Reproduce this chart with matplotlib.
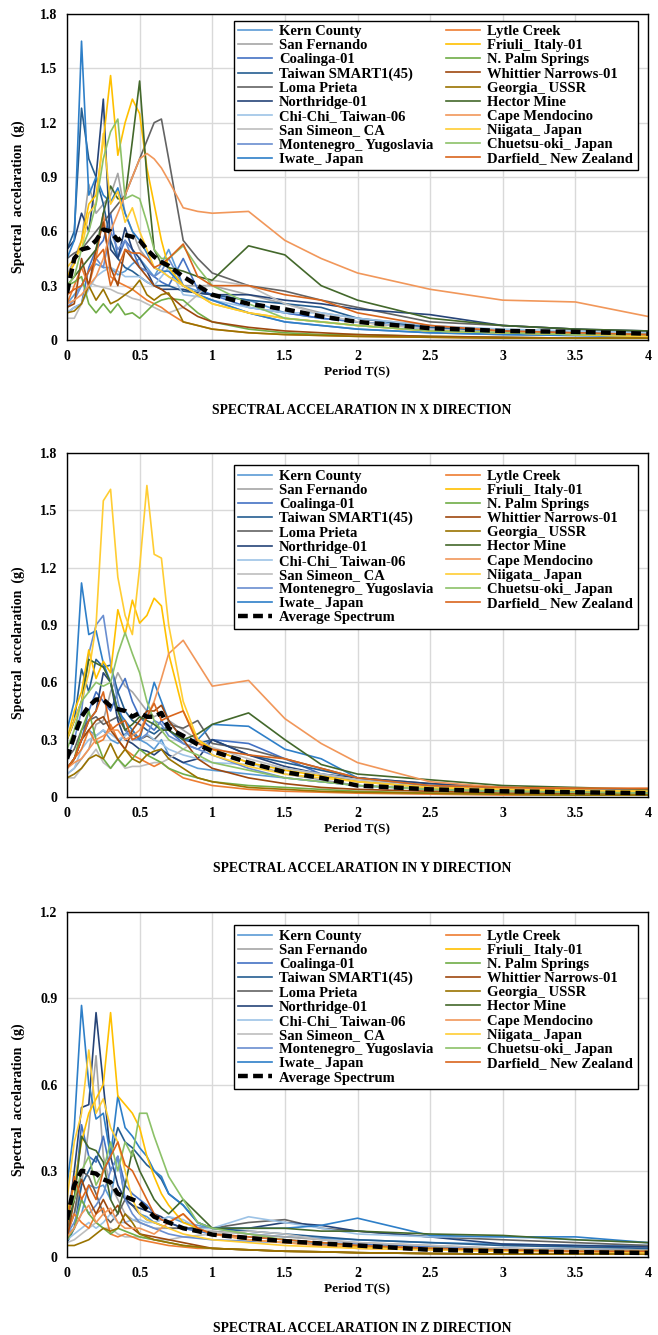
import numpy as np
import matplotlib.pyplot as plt

plt.rcParams['font.family'] = ['Liberation Serif', 'DejaVu Serif']
plt.rcParams['font.weight'] = 'bold'
plt.rcParams['axes.labelweight'] = 'bold'

T = [0, 0.05, 0.1, 0.15, 0.2, 0.25, 0.3, 0.35, 0.4, 0.45, 0.5, 0.55, 0.6, 0.65,
     0.7, 0.8, 0.9, 1.0, 1.25, 1.5, 1.75, 2.0, 2.5, 3.0, 3.5, 4.0]

names = ["Kern County", "San Fernando", "Coalinga-01", "Taiwan SMART1(45)",
         "Loma Prieta", "Northridge-01", "Chi-Chi_ Taiwan-06", "San Simeon_ CA",
         "Montenegro_ Yugoslavia", "Iwate_ Japan",
         "Lytle Creek", "Friuli_ Italy-01", "N. Palm Springs", "Whittier Narrows-01",
         "Georgia_ USSR", "Hector Mine", "Cape Mendocino", "Niigata_ Japan",
         "Chuetsu-oki_ Japan", "Darfield_ New Zealand"]

colors = ["#5B9BD5", "#A5A5A5", "#4472C4", "#255E91", "#636363", "#264478",
          "#9DC3E6", "#BDBDBD", "#698ED0", "#2E7FC8",
          "#ED7D31", "#FFC000", "#70AD47", "#9E480E", "#997300", "#43682B",
          "#F1975A", "#FFCD33", "#8CC168", "#D9651C"]

sa_x = [
    [.20, .25, .30, .38, .42, .40, .40, .36, .38, .42, .45, .40, .35, .42, .50, .30, .27, .25, .22, .15, .12, .10, .07, .05, .04, .03],
    [.35, .45, .55, .86, .70, .75, .80, .92, .70, .60, .50, .45, .40, .38, .35, .30, .30, .30, .25, .20, .15, .12, .08, .05, .04, .03],
    [.15, .18, .20, .40, .50, .55, .70, .45, .55, .50, .40, .38, .35, .32, .30, .45, .28, .25, .18, .15, .12, .10, .06, .04, .035, .03],
    [.50, .60, 1.28, 1.00, .90, .75, .55, .45, .40, .38, .35, .32, .30, .30, .30, .27, .26, .25, .22, .20, .18, .12, .07, .05, .04, .03],
    [.45, .48, .50, .55, .60, .65, .70, .75, .80, .90, 1.00, 1.10, 1.20, 1.22, 1.00, .55, .45, .37, .30, .27, .22, .18, .10, .08, .06, .04],
    [.50, .55, .70, .60, .90, 1.33, .50, .45, .62, .50, .45, .38, .30, .28, .28, .28, .26, .25, .25, .22, .20, .17, .14, .08, .06, .05],
    [.15, .18, .20, .28, .35, .38, .40, .38, .35, .35, .35, .32, .30, .35, .40, .25, .24, .22, .18, .15, .15, .12, .08, .06, .05, .04],
    [.12, .12, .20, .32, .30, .29, .28, .26, .25, .23, .22, .20, .18, .16, .15, .18, .25, .33, .30, .20, .14, .10, .06, .04, .035, .03],
    [.18, .22, .30, .38, .45, .40, .60, .50, .55, .45, .40, .38, .35, .38, .45, .30, .25, .22, .15, .10, .08, .06, .04, .03, .025, .02],
    [.45, .55, 1.65, .80, .90, .80, .76, .84, .70, .60, .55, .48, .40, .38, .38, .30, .25, .22, .15, .10, .08, .06, .04, .03, .025, .02],
    [.20, .30, .40, .30, .45, .70, .35, .32, .30, .28, .25, .22, .20, .18, .15, .10, .08, .06, .04, .03, .025, .02, .015, .01, .01, .01],
    [.35, .42, .55, .75, .80, 1.10, 1.46, 1.02, 1.20, 1.33, 1.25, .95, .75, .55, .40, .30, .25, .20, .15, .12, .10, .08, .05, .04, .03, .02],
    [.30, .32, .35, .20, .15, .20, .15, .20, .14, .15, .12, .16, .20, .22, .23, .22, .15, .10, .06, .04, .03, .03, .02, .015, .01, .01],
    [.18, .20, .45, .30, .50, .65, .40, .30, .50, .45, .40, .35, .30, .28, .25, .18, .13, .10, .07, .05, .04, .03, .02, .015, .01, .01],
    [.15, .16, .20, .30, .22, .28, .20, .22, .25, .28, .33, .25, .22, .25, .26, .10, .08, .06, .04, .03, .025, .02, .015, .01, .01, .01],
    [.30, .35, .40, .45, .50, .70, .85, .78, .78, 1.10, 1.43, .90, .50, .42, .40, .38, .35, .33, .52, .47, .30, .22, .12, .08, .06, .05],
    [.20, .22, .25, .30, .35, .45, .60, .70, .80, .90, 1.00, 1.03, 1.00, .95, .88, .73, .71, .70, .71, .55, .45, .37, .28, .22, .21, .13],
    [.40, .45, .50, .70, .75, 1.14, .75, .82, .65, .73, .60, .50, .40, .38, .35, .30, .25, .20, .15, .12, .10, .08, .05, .04, .03, .02],
    [.30, .35, .50, .60, .75, 1.00, 1.15, 1.22, .78, .80, .78, .65, .50, .45, .45, .52, .40, .30, .20, .12, .10, .08, .05, .04, .03, .03],
    [.25, .28, .30, .38, .45, .50, .30, .40, .50, .48, .48, .45, .40, .42, .45, .53, .35, .30, .30, .25, .22, .15, .08, .05, .04, .03],
]
avg_x = [.26, .45, .50, .51, .55, .61, .60, .55, .58, .57, .55, .50, .46, .43, .41, .35, .30, .25, .20, .17, .13, .10, .065, .05, .045, .035]

sa_y = [
    [.15, .20, .30, .35, .32, .35, .30, .28, .33, .35, .30, .28, .25, .30, .22, .18, .15, .14, .12, .10, .08, .06, .04, .03, .03, .02],
    [.12, .15, .20, .25, .38, .40, .55, .65, .58, .55, .50, .45, .42, .44, .40, .35, .30, .25, .18, .12, .09, .06, .04, .03, .025, .02],
    [.15, .20, .30, .45, .55, .50, .45, .55, .62, .50, .42, .38, .35, .40, .35, .28, .25, .30, .28, .20, .12, .08, .05, .04, .035, .03],
    [.30, .40, .67, .55, .72, .68, .69, .55, .45, .40, .38, .35, .33, .36, .35, .30, .28, .30, .22, .18, .14, .10, .06, .05, .04, .035],
    [.20, .25, .35, .40, .42, .38, .40, .42, .35, .33, .30, .32, .30, .34, .38, .36, .40, .28, .25, .20, .15, .10, .07, .05, .04, .035],
    [.15, .20, .30, .40, .45, .65, .60, .40, .30, .28, .25, .24, .22, .25, .22, .18, .20, .30, .22, .16, .12, .10, .07, .05, .04, .035],
    [.12, .15, .25, .30, .32, .35, .33, .30, .32, .35, .30, .33, .30, .28, .25, .22, .20, .18, .17, .15, .12, .09, .06, .05, .04, .035],
    [.10, .10, .15, .20, .25, .18, .15, .20, .15, .16, .16, .17, .18, .18, .20, .25, .30, .26, .20, .15, .12, .09, .06, .04, .035, .03],
    [.20, .30, .45, .75, .90, .95, .70, .50, .35, .30, .30, .33, .40, .38, .32, .28, .25, .22, .15, .10, .08, .06, .04, .03, .025, .02],
    [.35, .50, 1.12, .85, .87, .70, .60, .45, .40, .35, .30, .45, .60, .50, .40, .30, .30, .38, .37, .25, .20, .10, .06, .05, .04, .035],
    [.15, .20, .25, .35, .28, .30, .38, .30, .25, .22, .20, .18, .16, .18, .15, .10, .08, .06, .04, .03, .025, .02, .015, .01, .01, .01],
    [.30, .45, .55, .77, .62, .71, .65, .98, .85, 1.03, .91, .95, 1.04, 1.00, .75, .45, .30, .25, .18, .14, .11, .08, .05, .04, .035, .03],
    [.15, .20, .35, .45, .30, .20, .15, .20, .16, .20, .25, .22, .20, .18, .15, .12, .10, .08, .06, .05, .04, .03, .02, .015, .01, .01],
    [.15, .20, .30, .35, .40, .42, .35, .30, .25, .35, .40, .45, .45, .48, .40, .30, .20, .15, .10, .07, .05, .04, .03, .02, .02, .015],
    [.10, .12, .15, .20, .22, .20, .28, .20, .25, .20, .18, .22, .24, .25, .20, .15, .10, .08, .05, .04, .03, .025, .02, .015, .01, .01],
    [.30, .40, .50, .72, .70, .68, .60, .45, .35, .38, .42, .40, .38, .35, .35, .30, .33, .38, .44, .30, .17, .12, .09, .06, .05, .04],
    [.15, .18, .20, .25, .30, .32, .35, .35, .30, .32, .35, .42, .50, .62, .75, .82, .70, .58, .61, .41, .28, .18, .08, .05, .045, .045],
    [.30, .40, .50, .65, .90, 1.55, 1.61, 1.15, .95, .85, 1.20, 1.63, 1.27, 1.25, .90, .50, .30, .22, .16, .12, .10, .08, .05, .04, .035, .03],
    [.25, .35, .50, .55, .60, .58, .60, .75, .86, .75, .65, .50, .40, .35, .30, .25, .22, .18, .14, .10, .08, .06, .04, .03, .025, .02],
    [.15, .20, .30, .40, .45, .55, .35, .38, .40, .30, .32, .42, .49, .40, .42, .45, .28, .25, .22, .20, .15, .10, .06, .05, .045, .045],
]
avg_y = [.20, .32, .42, .475, .51, .51, .475, .46, .45, .42, .44, .42, .42, .44, .36, .32, .275, .24, .18, .13, .10, .06, .04, .03, .025, .02]

sa_z = [
    [.08, .10, .15, .25, .24, .25, .20, .35, .20, .18, .15, .14, .12, .13, .14, .12, .11, .10, .08, .07, .065, .06, .05, .045, .04, .04],
    [.10, .15, .25, .45, .70, .35, .25, .20, .15, .13, .12, .11, .10, .10, .10, .10, .09, .09, .08, .07, .06, .05, .04, .03, .028, .025],
    [.10, .20, .46, .35, .33, .42, .30, .35, .25, .22, .20, .18, .15, .13, .12, .10, .09, .08, .07, .06, .05, .045, .035, .03, .025, .02],
    [.05, .10, .25, .30, .35, .30, .35, .45, .40, .38, .35, .32, .30, .27, .22, .18, .12, .10, .09, .08, .07, .06, .05, .04, .035, .03],
    [.08, .15, .30, .28, .22, .15, .12, .15, .20, .18, .15, .13, .12, .11, .10, .10, .10, .10, .12, .13, .10, .09, .07, .06, .05, .04],
    [.10, .30, .52, .53, .85, .60, .35, .25, .20, .18, .17, .16, .15, .14, .12, .10, .10, .10, .10, .12, .11, .09, .07, .045, .04, .035],
    [.06, .08, .10, .12, .10, .12, .15, .12, .12, .13, .13, .12, .12, .13, .14, .13, .10, .10, .14, .12, .10, .08, .07, .07, .06, .05],
    [.05, .06, .08, .10, .12, .10, .10, .08, .07, .07, .07, .065, .06, .06, .06, .07, .075, .08, .09, .08, .06, .05, .04, .03, .025, .02],
    [.08, .12, .20, .15, .18, .22, .30, .35, .20, .15, .12, .11, .10, .09, .08, .07, .065, .06, .055, .05, .045, .04, .03, .025, .02, .02],
    [.25, .45, .875, .60, .48, .50, .35, .56, .45, .42, .38, .35, .30, .28, .22, .18, .12, .10, .10, .10, .11, .135, .075, .07, .07, .05],
    [.08, .15, .12, .10, .15, .17, .08, .07, .08, .07, .06, .055, .05, .045, .04, .035, .03, .03, .025, .02, .018, .015, .012, .01, .01, .01],
    [.15, .25, .40, .50, .55, .60, .85, .56, .53, .50, .45, .35, .28, .22, .18, .12, .10, .08, .06, .05, .04, .035, .03, .025, .02, .018],
    [.06, .10, .20, .15, .12, .10, .08, .10, .09, .08, .07, .065, .06, .055, .05, .04, .035, .03, .025, .02, .018, .015, .012, .01, .01, .01],
    [.06, .20, .27, .20, .15, .20, .15, .18, .12, .10, .08, .075, .07, .065, .06, .05, .04, .03, .025, .02, .018, .015, .012, .01, .01, .01],
    [.04, .04, .05, .06, .08, .10, .09, .10, .15, .12, .08, .07, .06, .055, .05, .04, .035, .03, .025, .02, .018, .015, .012, .01, .01, .01],
    [.10, .20, .42, .38, .37, .33, .20, .15, .25, .37, .30, .25, .20, .17, .15, .20, .15, .10, .10, .10, .09, .09, .08, .075, .06, .05],
    [.07, .10, .15, .18, .12, .15, .17, .12, .10, .10, .10, .09, .08, .10, .12, .15, .10, .08, .06, .05, .04, .03, .025, .02, .018, .015],
    [.20, .40, .50, .72, .50, .55, .45, .40, .30, .20, .15, .13, .12, .11, .10, .08, .07, .06, .05, .04, .035, .03, .025, .02, .02, .015],
    [.15, .20, .30, .35, .25, .30, .40, .30, .40, .35, .50, .50, .42, .35, .28, .20, .12, .10, .08, .06, .05, .04, .03, .025, .02, .02],
    [.10, .28, .20, .25, .20, .30, .35, .40, .32, .30, .25, .20, .15, .13, .12, .15, .10, .08, .07, .06, .05, .04, .03, .025, .02, .02],
]
avg_z = [.13, .25, .30, .295, .29, .27, .26, .22, .21, .20, .19, .165, .14, .13, .12, .10, .09, .078, .066, .055, .047, .04, .025, .02, .017, .014]

W, H = 658, 1335


def draw_panel(ax, series, avg, ymax, legend_top, avg_in_legend, ylab_y):
    handles = []
    for name, col, vals in zip(names, colors, series):
        h, = ax.plot(T, vals, color=col, lw=1.2, label=name)
        handles.append(h)
    ha, = ax.plot(T, avg, color="black", lw=3.2, ls=(0, (2.2, 1.2)),
                  label="Average Spectrum", zorder=5)
    ax.set_xlim(0, 4)
    ax.set_ylim(0, ymax)
    ax.set_xticks(np.arange(0, 4.01, 0.5))
    ax.set_xticklabels(["0", "0.5", "1", "1.5", "2", "2.5", "3", "3.5", "4"])
    yt = np.arange(0, ymax + 0.001, 0.3)
    ax.set_yticks(yt)
    ax.set_yticklabels(["0" if v == 0 else "%.1f" % v for v in yt])
    ax.tick_params(length=0, labelsize=10, pad=7)
    ax.grid(color="#D9D9D9", lw=1)
    ax.set_axisbelow(True)
    for s in ax.spines.values():
        s.set_color("black")
        s.set_linewidth(1)
    ax.set_xlabel("Period T(S)", fontsize=9.5, labelpad=2)
    ax.set_ylabel("Spectral  accelaration  (g)", fontsize=10)
    ax.yaxis.set_label_coords(-0.072, ylab_y)
    if avg_in_legend:
        order = handles[:10] + [ha] + handles[10:]
    else:
        order = handles
    leg = ax.legend(handles=order, loc="upper left", bbox_to_anchor=(0.287, legend_top),
                    ncol=2, prop={"size": 10.5, "weight": "bold"}, labelspacing=0.065,
                    handlelength=2.3, handletextpad=0.5, columnspacing=0.9,
                    borderpad=0.3, fancybox=False, framealpha=1, borderaxespad=0)
    leg.get_frame().set_edgecolor("black")
    leg.get_frame().set_linewidth(1)


fig = plt.figure(figsize=(W / 100, H / 100), dpi=100)
left = 67 / W
width = 581 / W

ax1 = fig.add_axes([left, 1 - 340 / H, width, 326 / H])
draw_panel(ax1, sa_x, avg_x, 1.8, 0.98, False, 0.44)
ax2 = fig.add_axes([left, 1 - 797 / H, width, 344 / H])
draw_panel(ax2, sa_y, avg_y, 1.8, 0.965, True, 0.45)
ax3 = fig.add_axes([left, 1 - 1257 / H, width, 345 / H])
draw_panel(ax3, sa_z, avg_z, 1.2, 0.962, True, 0.455)

for y, d in [(410, "X"), (869, "Y"), (1328, "Z")]:
    fig.text(362 / W, 1 - y / H, "SPECTRAL ACCELARATION IN %s DIRECTION" % d,
             ha="center", va="center", fontsize=9.8, fontweight="bold")

fig.savefig("out.png", dpi=100)
